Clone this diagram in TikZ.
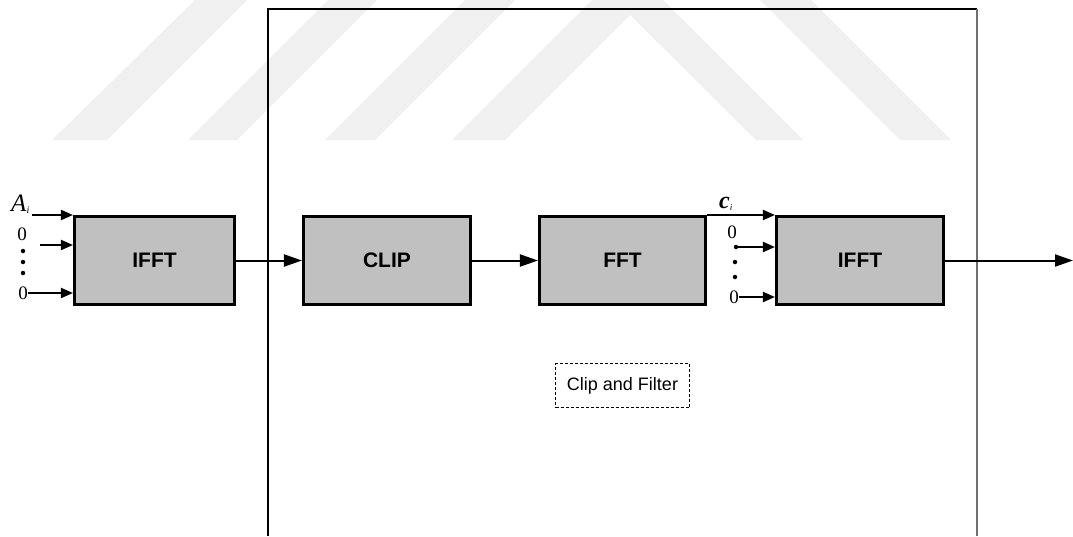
\documentclass[tikz,border=0pt]{standalone}
\usepackage{fontspec}
\setmainfont{Liberation Serif}
\newfontfamily\arial{Liberation Sans}
\usetikzlibrary{arrows.meta}
\definecolor{blkgray}{HTML}{C0C0C0}
\definecolor{wmgray}{HTML}{F0F0F0}
\definecolor{edgegray}{HTML}{707070}
\begin{document}
\begin{tikzpicture}[x=1pt,y=-1pt,
  blk/.style={draw=black,line width=3.1pt,fill=blkgray,minimum height=88pt,inner sep=0pt,font=\arial\bfseries\fontsize{21}{21}\selectfont},
  conn/.style={line width=2pt,-{Triangle[length=18pt,width=12pt]}},
  inarr/.style={line width=2pt,-{Triangle[length=12pt,width=10pt]}},
  lbl/.style={inner sep=0pt,font=\fontsize{19}{19}\selectfont},
  dotn/.style={circle,fill=black,inner sep=0pt,minimum size=4.5pt},
  wm/.style={fill=wmgray,draw=none},
  frame/.style={line width=1.5pt,draw=black},
  dashbox/.style={draw=black,line width=0.9pt,dash pattern=on 3pt off 2pt,minimum width=134pt,minimum height=44pt,inner sep=0pt,font=\arial\fontsize{18}{18}\selectfont}]
\useasboundingbox (0,0) rectangle (1073,536);
% watermark
\fill[wm] (52,140) -- (107,140) -- (247,0) -- (195,0) -- cycle;
\fill[wm] (188,140) -- (237,140) -- (377,0) -- (328,0) -- cycle;
\fill[wm] (325,140) -- (375,140) -- (515,0) -- (465,0) -- cycle;
\fill[wm] (452,140) -- (505,140) -- (630,15) -- (756,140) -- (803,140) -- (663,0) -- (592,0) -- cycle;
\fill[wm] (900,140) -- (951,140) -- (811,0) -- (760,0) -- cycle;
% frame
\coordinate (fbl) at (268,536);
\coordinate (ftl) at (268,9);
\coordinate (ftr) at (977,9);
\coordinate (fbr) at (977,536);
\draw[frame] (fbl) -- (ftl) -- (ftr);
\draw[line width=2pt,draw=edgegray] (ftr) -- (fbr);
% blocks
\node[blk,minimum width=160pt] (ifft1) at (154.5,260.5) {IFFT};
\node[blk,minimum width=167pt] (clip) at (387,260.5) {CLIP};
\node[blk,minimum width=166pt] (fft) at (622.5,260.5) {FFT};
\node[blk,minimum width=167pt] (ifft2) at (860,260.5) {IFFT};
\node[dashbox] (cf) at (622.5,385.5) {Clip and Filter};
% connectors
\draw[conn] (ifft1.east) -- (clip.west);
\draw[conn] (clip.east) -- (fft.west);
\coordinate (out) at (1073,260.5);
\draw[conn] (ifft2.east) -- (out);
% inputs of first IFFT
\node[lbl,anchor=base west,font=\fontsize{25}{25}\selectfont] (ai) at (11,211) {\textit{A}\raisebox{-2pt}{\fontsize{10}{10}\selectfont\textit{i}}};
\node[lbl] (z1) at (22,234) {0};
\node[dotn] (d1) at (23,251) {};
\node[dotn] (d2) at (23,262) {};
\node[dotn] (d3) at (23,273) {};
\node[lbl] (z2) at (23,293) {0};
\coordinate (a1) at (32,215);
\coordinate (a2) at (40,245);
\draw[inarr] (a1) -- (a1 -| ifft1.west);
\draw[inarr] (a2) -- (a2 -| ifft1.west);
\draw[inarr] (z2.east) -- (z2.east -| ifft1.west);
% inputs of second IFFT
\node[lbl,anchor=base west,font=\fontsize{24}{24}\selectfont] (ci) at (719,208) {\textbf{\textit{c}}\raisebox{-2pt}{\fontsize{9}{9}\selectfont\textit{i}}};
\node[lbl] (z3) at (732,232) {0};
\node[dotn] (d4) at (736,247) {};
\node[dotn] (d5) at (735,262) {};
\node[dotn] (d6) at (735,277) {};
\node[lbl] (z4) at (734,297) {0};
\coordinate (c1) at (707,215);
\draw[inarr] (c1) -- (c1 -| ifft2.west);
\draw[inarr] (d4.center) -- (d4.center -| ifft2.west);
\draw[inarr] (z4.east) -- (z4.east -| ifft2.west);
\end{tikzpicture}
\end{document}
